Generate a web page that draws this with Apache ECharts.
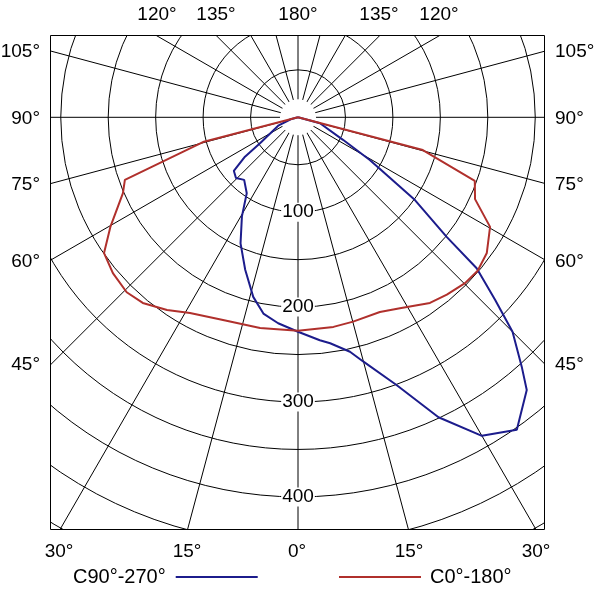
<!DOCTYPE html>
<html>
<head>
<meta charset="utf-8">
<script src="https://cdn.jsdelivr.net/npm/echarts@6/dist/echarts.min.js"></script>
<style>
html,body{margin:0;padding:0;background:#fff;}
#chart{width:606px;height:595px;}
</style>
</head>
<body>
<div id="chart"></div>
<script>
// ---- data (gamma angle from nadir in degrees, intensity in cd/klm) ----
// C0-180 plane: left half = C180, right half = C0
const gammaC180 = [0, 10.2, 20.3, 28.9, 34.2, 39.9, 44.4, 49.9, 55.0, 59.7, 66.6, 70.1, 75.4, 90];
const intensityC180 = [225, 225.6, 227.7, 235.5, 245.5, 255, 258, 255, 249.5, 229, 201, 194, 103.5, 0];
const gammaC0 = [0, 9.6, 15.1, 22.8, 28.1, 35.4, 40.0, 45.2, 49.5, 54.3, 60.3, 65.2, 70.2, 75.3, 90];
const intensityC0 = [225, 224, 223, 222.6, 228, 240, 244, 248, 249, 245, 233, 205.5, 198, 136, 0];
// C90-270 plane: left half = C270, right half = C90
const gammaC270 = [0, 5.5, 10.0, 14.0, 19.1, 24.5, 29.5, 34.0, 40.7, 45.6, 50.2, 53.4, 55.6, 67.5, 75, 90];
const intensityC270 = [226, 218, 210, 195, 170, 146, 120, 96.6, 87, 91.5, 88, 69.6, 48.5, 22, 8, 0];
const gammaC90 = [0, 5.6, 8.1, 12.5, 15.0, 20.2, 25.1, 30.0, 35.0, 40.0, 41.9, 45.0, 47.2, 49.8, 51.2, 54.7, 59.3, 63.4, 74.7, 90];
const intensityC90 = [226, 236, 240.5, 253, 266.6, 300.6, 349, 387.6, 402, 375, 353, 319.7, 283, 246.5, 201, 151, 88, 53, 24, 0];

const radiusLabels = [100, 200, 300, 400];
const sideLabels = ['105°', '90°', '75°', '60°', '45°'];
const topLabels = ['120°', '135°', '180°', '135°', '120°'];
const bottomLabels = ['30°', '15°', '0°', '15°', '30°'];
const seriesNames = ['C90°-270°', 'C0°-180°'];

// build polar [radius, angle] pairs; angle axis: 0 at nadir, right side = gamma, left side = 360 - gamma
function buildPlane(gLeft, iLeft, gRight, iRight) {
  const out = [];
  for (let k = gLeft.length - 1; k >= 0; k--) out.push([iLeft[k], 360 - gLeft[k]]);
  for (let k = 0; k < gRight.length; k++) out.push([iRight[k], gRight[k]]);
  return out;
}

const FONT = 'Arial, "Liberation Sans", sans-serif';
const CX = 298, CY = 117.3;
const L = 50.5, R = 544.5, T = 35.5, B = 529.5;

const chart = echarts.init(document.getElementById('chart'), null, {renderer: 'canvas'});

const sideY = [52, 119, 185, 262, 365];
const topX = [157, 216, 298, 379, 439];
const bottomX = [59, 187, 297, 409, 536];

const graphics = [
  {type: 'circle', shape: {cx: CX, cy: CY, r: 18}, style: {fill: '#fff'}, z: 1, silent: true},
  {type: 'rect', shape: {x: 0, y: 0, width: 606, height: T}, style: {fill: '#fff'}, z: 50, silent: true},
  {type: 'rect', shape: {x: 0, y: B, width: 606, height: 595 - B}, style: {fill: '#fff'}, z: 50, silent: true},
  {type: 'rect', shape: {x: 0, y: 0, width: L, height: 595}, style: {fill: '#fff'}, z: 50, silent: true},
  {type: 'rect', shape: {x: R, y: 0, width: 606 - R, height: 595}, style: {fill: '#fff'}, z: 50, silent: true},
  {type: 'rect', shape: {x: L, y: T, width: R - L, height: B - T}, style: {fill: 'none', stroke: '#000', lineWidth: 1}, z: 55, silent: true}
];
sideLabels.forEach((t, k) => {
  graphics.push({type: 'text', x: 40, y: sideY[k], z: 60, style: {text: t, font: '19px ' + FONT, fill: '#000', align: 'right', verticalAlign: 'middle'}});
  graphics.push({type: 'text', x: 555, y: sideY[k], z: 60, style: {text: t, font: '19px ' + FONT, fill: '#000', align: 'left', verticalAlign: 'middle'}});
});
topLabels.forEach((t, k) => {
  graphics.push({type: 'text', x: topX[k], y: 15, z: 60, style: {text: t, font: '19px ' + FONT, fill: '#000', align: 'center', verticalAlign: 'middle'}});
});
bottomLabels.forEach((t, k) => {
  graphics.push({type: 'text', x: bottomX[k], y: 552, z: 60, style: {text: t, font: '19px ' + FONT, fill: '#000', align: 'center', verticalAlign: 'middle'}});
});

const option = {
  animation: false,
  backgroundColor: '#fff',
  polar: {center: [CX, CY], radius: 550 * 0.949},
  angleAxis: {
    type: 'value', min: 0, max: 360, interval: 15, startAngle: 270, clockwise: false, z: 0,
    axisLine: {show: false}, axisTick: {show: false}, axisLabel: {show: false},
    splitLine: {show: true, lineStyle: {color: '#000', width: 1}}
  },
  radiusAxis: {
    type: 'value', min: 0, max: 550, interval: 50, z: 1,
    axisLine: {show: false}, axisTick: {show: false},
    splitLine: {show: true, lineStyle: {color: '#000', width: 1}},
    axisLabel: {
      show: true, margin: 0, align: 'center', verticalAlign: 'middle', rotate: 0,
      fontSize: 19, fontFamily: FONT, color: '#000', backgroundColor: '#fff', padding: [0, 1],
      formatter: function (v) { return radiusLabels.indexOf(v) >= 0 ? String(v) : ''; }
    }
  },
  legend: [
    {data: [seriesNames[0]], left: 73, top: 567, padding: 0, align: 'right', icon: 'rect', itemWidth: 82, itemHeight: 2, z: 100,
     textStyle: {fontSize: 20, fontFamily: FONT, color: '#000', padding: [0, 5, 0, 0]}},
    {data: [seriesNames[1]], left: 339, top: 567, padding: 0, align: 'left', icon: 'rect', itemWidth: 82, itemHeight: 2, z: 100,
     textStyle: {fontSize: 20, fontFamily: FONT, color: '#000', padding: [0, 0, 0, 4]}}
  ],
  graphic: graphics,
  series: [
    {name: seriesNames[0], type: 'line', coordinateSystem: 'polar', symbol: 'none', smooth: false, clip: false,
     color: '#1c1c8c', lineStyle: {color: '#1c1c8c', width: 2},
     data: buildPlane(gammaC270, intensityC270, gammaC90, intensityC90)},
    {name: seriesNames[1], type: 'line', coordinateSystem: 'polar', symbol: 'none', smooth: false, clip: false,
     color: '#b0302c', lineStyle: {color: '#b0302c', width: 2},
     data: buildPlane(gammaC180, intensityC180, gammaC0, intensityC0)}
  ]
};
chart.setOption(option);
</script>
</body>
</html>
